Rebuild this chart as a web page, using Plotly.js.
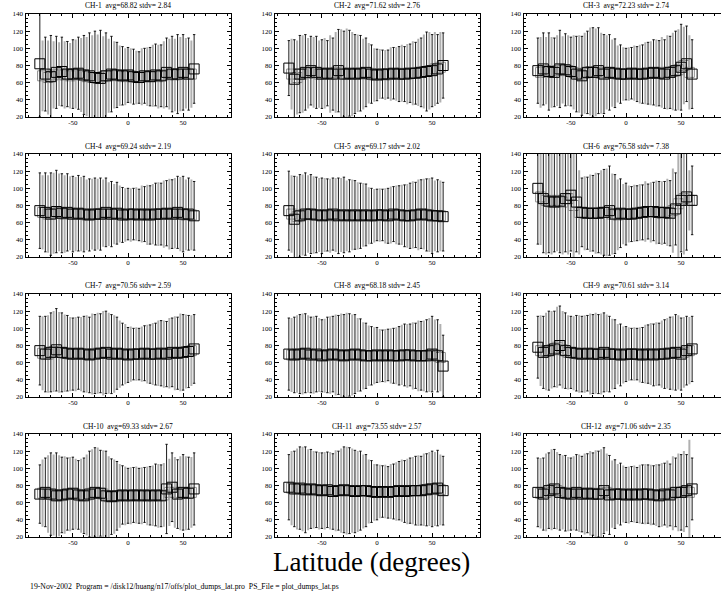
<!DOCTYPE html>
<html>
<head>
<meta charset="utf-8">
<script src="https://cdn.plot.ly/plotly-3.0.1.min.js"></script>
<style>
html,body{margin:0;padding:0;overflow:hidden;background:#fff;}
#plot{width:735px;height:594px;}
</style>
</head>
<body>
<div id="plot"></div>
<script>
// Latitude bins (two interleaved series)
const latBlack = [-80,-75,-70,-65,-60,-55,-50,-45,-40,-35,-30,-25,-20,-15,-10,-5,0,5,10,15,20,25,30,35,40,45,50,55,60];
const latGray  = [-77.5,-72.5,-67.5,-62.5,-57.5,-52.5,-47.5,-42.5,-37.5,-32.5,-27.5,-22.5,-17.5,-12.5,-7.5,-2.5,2.5,7.5,12.5,17.5,22.5,27.5,32.5,37.5,42.5,47.5,52.5,57.5];

const channels = ["CH-1","CH-2","CH-3","CH-4","CH-5","CH-6","CH-7","CH-8","CH-9","CH-10","CH-11","CH-12"];
const avgs  = ["68.82","71.62","72.23","69.24","69.17","76.58","70.56","68.18","70.61","69.33","73.55","71.06"];
const stdvs = ["2.84","2.76","2.74","2.19","2.02","7.38","2.59","2.45","3.14","2.67","2.57","2.35"];

const ch1BlackMean = [82,70,67,72,73,70,70,71,69,68,66,65,68,70,69,68,69,67,66,68,67,69,68,72,70,70,72,70,76];
const ch1BlackErr  = [62,43,48,42,40,38,40,42,46,50,54,56,50,44,38,34,32,32,30,32,34,36,36,40,44,46,44,42,40];
const ch1GrayMean  = [68,66,69,70,69,68,70,69,67,66,65,67,68,69,68,67,68,66,67,67,68,67,69,70,69,70,71,70];
const ch1GrayErr   = [40,42,38,36,38,37,39,42,45,48,50,46,42,38,34,32,31,30,32,33,35,36,38,40,41,42,40,38];

const ch2BlackMean = [77,64,70,72,74,72,70,71,70,74,70,71,70,71,72,70,69,70,70,71,70,70,71,71,72,73,74,76,80];
const ch2BlackErr  = [32,46,45,44,40,42,40,38,42,48,50,50,46,44,40,34,30,28,28,30,32,32,34,36,40,46,42,40,38];
const ch2GrayMean  = [70,66,70,71,72,70,71,70,72,71,70,70,71,70,71,69,70,69,70,70,71,70,71,72,73,74,76,78];
const ch2GrayErr   = [40,42,44,40,40,38,40,44,46,50,52,48,44,40,34,30,28,28,30,30,32,34,36,38,42,44,42,40];

const ch3BlackMean = [74,76,73,72,76,75,73,70,68,72,72,74,70,72,71,70,70,71,70,70,71,72,71,70,72,74,78,82,70];
const ch3BlackErr  = [38,42,45,40,45,42,40,44,46,48,52,50,46,44,40,34,30,30,32,34,36,38,38,40,42,46,50,44,40];
const ch3GrayMean  = [72,74,72,74,75,74,72,70,71,73,72,71,72,71,70,70,70,71,70,71,71,71,72,72,73,75,80,72];
const ch3GrayErr   = [40,38,40,40,38,40,42,44,46,50,50,46,42,38,32,30,30,31,33,35,36,38,40,42,44,46,44,42];

const ch4BlackMean = [74,72,70,73,71,72,70,71,70,69,70,70,72,70,71,69,70,70,69,70,69,70,70,71,70,72,70,70,68];
const ch4BlackErr  = [44,46,48,48,46,45,44,44,44,42,42,42,40,38,36,32,30,30,30,32,34,36,36,38,40,42,44,42,40];
const ch4GrayMean  = [72,70,71,72,70,71,70,70,69,70,70,71,70,70,70,69,69,70,70,69,70,70,70,70,71,70,69,69];
const ch4GrayErr   = [42,44,46,44,44,42,42,42,40,40,40,38,36,34,32,30,30,30,32,34,34,36,38,40,40,42,40,40];

const ch5BlackMean = [74,64,68,70,70,69,68,69,70,68,69,68,69,68,69,68,69,69,68,70,69,68,68,69,70,69,68,68,67];
const ch5BlackErr  = [46,50,48,48,46,44,44,42,42,44,44,42,40,38,36,32,30,30,32,32,34,36,38,38,40,42,44,42,40];
const ch5GrayMean  = [70,67,69,70,69,69,69,68,69,69,68,69,68,69,68,68,69,68,69,69,69,68,69,69,70,69,68,68];
const ch5GrayErr   = [44,46,46,44,44,42,42,42,42,42,40,40,38,36,32,30,30,31,32,33,34,36,38,40,40,42,40,40];

const ch6BlackMean = [100,88,85,84,85,88,92,84,72,71,71,71,72,74,70,71,70,70,71,72,73,73,72,72,71,76,86,90,86];
const ch6BlackErr  = [65,63,60,58,60,62,65,58,40,42,44,46,50,52,46,40,36,32,32,32,32,34,36,36,38,42,60,62,40];
const ch6GrayMean  = [90,86,84,86,84,88,80,72,71,71,71,72,72,70,69,70,70,71,72,73,72,72,71,72,74,82,88,86];
const ch6GrayErr   = [55,62,60,58,60,64,62,48,42,44,46,48,50,46,40,34,32,32,32,34,34,36,36,38,48,62,64,34];

const ch7BlackMean = [74,70,72,75,72,71,70,71,70,69,70,71,72,70,71,70,69,70,70,71,70,70,71,70,72,71,72,73,76];
const ch7BlackErr  = [40,44,46,48,46,44,42,42,44,44,46,46,48,46,42,36,32,30,30,32,34,36,38,38,40,42,44,42,40];
const ch7GrayMean  = [71,70,73,72,71,70,70,70,70,70,71,71,71,70,70,70,70,70,70,70,70,71,70,71,71,72,73,74];
const ch7GrayErr   = [42,44,46,46,44,42,42,42,44,46,46,48,46,44,38,34,31,30,31,33,35,37,38,40,42,44,42,40];

const ch8BlackMean = [70,69,70,71,69,70,68,69,70,69,68,69,70,69,68,68,69,68,69,68,68,69,69,68,68,68,70,68,56];
const ch8BlackErr  = [42,44,46,46,44,44,42,44,44,46,48,48,46,42,38,34,32,30,30,32,34,36,36,38,40,42,44,42,36];
const ch8GrayMean  = [69,70,70,70,69,69,68,69,69,68,69,69,69,68,68,68,68,68,68,68,69,68,68,68,68,69,69,66];
const ch8GrayErr   = [42,44,46,44,44,42,42,44,46,48,48,46,42,38,34,32,30,30,31,32,34,36,38,40,40,42,40,38];

const ch9BlackMean = [78,72,74,76,80,74,72,71,70,71,70,70,72,70,70,69,70,70,70,69,70,69,70,70,71,72,70,74,76];
const ch9BlackErr  = [36,42,46,44,46,44,42,44,44,44,46,46,46,44,40,36,32,30,30,32,34,36,36,40,42,44,42,40,38];
const ch9GrayMean  = [74,73,75,78,75,72,71,70,70,70,71,70,71,70,70,69,70,70,69,70,70,70,70,71,71,72,72,74];
const ch9GrayErr   = [40,44,44,46,44,42,42,44,44,46,46,46,44,40,34,32,30,30,31,33,35,36,38,40,42,42,40,38];

const ch10BlackMean = [70,72,70,68,69,70,71,69,68,70,72,71,68,67,68,69,68,69,68,69,68,69,68,76,78,70,72,71,76];
const ch10BlackErr  = [34,40,48,50,44,42,42,40,44,50,52,50,52,44,40,34,32,32,32,32,34,36,36,52,40,40,44,42,42];
const ch10GrayMean  = [71,70,69,68,69,70,70,68,69,71,71,70,67,67,68,68,68,69,68,68,68,68,69,72,72,71,71,72];
const ch10GrayErr   = [38,44,46,46,44,42,40,42,46,50,52,50,46,42,36,33,32,32,32,33,34,36,36,38,40,42,42,40];

const ch11BlackMean = [78,76,77,75,76,75,74,75,73,74,75,74,73,74,74,73,72,73,72,73,74,73,74,74,74,75,76,77,74];
const ch11BlackErr  = [38,44,48,50,46,44,44,44,44,46,50,50,48,46,42,36,32,30,30,32,34,36,38,40,40,42,44,44,40];
const ch11GrayMean  = [77,76,76,75,75,74,74,74,74,74,74,74,73,73,73,72,73,73,73,73,74,73,74,74,75,76,76,75];
const ch11GrayErr   = [42,46,48,46,44,44,44,44,46,48,50,48,46,42,36,32,30,30,31,33,35,37,38,40,41,42,42,40];

const ch12BlackMean = [72,70,74,76,72,71,70,72,70,71,70,70,74,69,70,70,69,70,69,70,70,69,68,70,69,72,72,74,76];
const ch12BlackErr  = [40,42,44,46,44,44,42,44,44,46,48,50,50,46,40,36,32,32,32,34,34,34,36,36,36,40,44,42,36];
const ch12GrayMean  = [71,72,75,74,72,70,71,71,70,71,70,71,72,70,70,70,69,70,70,70,69,69,69,70,71,72,73,72];
const ch12GrayErr   = [40,44,46,44,42,42,42,44,46,48,50,50,44,38,34,32,32,32,33,34,34,35,36,38,42,44,46,60];

const blackMeans = [ch1BlackMean,ch2BlackMean,ch3BlackMean,ch4BlackMean,ch5BlackMean,ch6BlackMean,ch7BlackMean,ch8BlackMean,ch9BlackMean,ch10BlackMean,ch11BlackMean,ch12BlackMean];
const blackErrs  = [ch1BlackErr,ch2BlackErr,ch3BlackErr,ch4BlackErr,ch5BlackErr,ch6BlackErr,ch7BlackErr,ch8BlackErr,ch9BlackErr,ch10BlackErr,ch11BlackErr,ch12BlackErr];
const grayMeans  = [ch1GrayMean,ch2GrayMean,ch3GrayMean,ch4GrayMean,ch5GrayMean,ch6GrayMean,ch7GrayMean,ch8GrayMean,ch9GrayMean,ch10GrayMean,ch11GrayMean,ch12GrayMean];
const grayErrs   = [ch1GrayErr,ch2GrayErr,ch3GrayErr,ch4GrayErr,ch5GrayErr,ch6GrayErr,ch7GrayErr,ch8GrayErr,ch9GrayErr,ch10GrayErr,ch11GrayErr,ch12GrayErr];

const xTickVals = [-50,0,50];
const xTickText = ["-50","0","50"];
const yTickVals = [20,40,60,80,100,120,140];
const yTickText = ["20","40","60","80","100","120","140"];

const W = 735, H = 594;
const serif = "Liberation Serif, Times New Roman, serif";
const traces = [], annotations = [];
const layout = {
  width: W, height: H,
  margin: {l:0, r:0, t:0, b:0},
  paper_bgcolor: "#ffffff", plot_bgcolor: "#ffffff",
  showlegend: false,
  font: {family: serif, color: "#000", size: 7}
};

for (let i = 0; i < 12; i++) {
  const r = Math.floor(i / 3), c = i % 3;
  const left = 25.5 + 249 * c, right = left + 205;
  const top = 14 + 140 * r, bottom = 117 + 140 * r;
  const n = i + 1;
  const xa = "x" + (n === 1 ? "" : n), ya = "y" + (n === 1 ? "" : n);
  const xk = "xaxis" + (n === 1 ? "" : n), yk = "yaxis" + (n === 1 ? "" : n);
  layout[xk] = {
    domain: [left / W, right / W], anchor: ya,
    range: [-93, 93], tickvals: xTickVals, ticktext: xTickText,
    ticks: "inside", ticklen: 4, tickwidth: 1, tickcolor: "#000",
    minor: {dtick: 10, tick0: 0, ticks: "inside", ticklen: 2, tickcolor: "#000"},
    showline: true, linecolor: "#000", linewidth: 1, mirror: "allticks",
    showgrid: false, zeroline: false, ticklabelstandoff: -1,
    tickfont: {family: serif, size: 7, color: "#000"}
  };
  layout[yk] = {
    domain: [1 - bottom / H, 1 - top / H], anchor: xa,
    range: [20, 140], tickvals: yTickVals, ticktext: yTickText,
    ticks: "inside", ticklen: 4, tickwidth: 1, tickcolor: "#000",
    minor: {dtick: 5, tick0: 0, ticks: "inside", ticklen: 2, tickcolor: "#000"},
    showline: true, linecolor: "#000", linewidth: 1, mirror: "allticks",
    showgrid: false, zeroline: false,
    tickfont: {family: serif, size: 7, color: "#000"}
  };
  traces.push({
    type: "scatter", mode: "markers", xaxis: xa, yaxis: ya,
    x: latGray, y: grayMeans[i],
    error_y: {type: "data", array: grayErrs[i], visible: true, color: "#b0b0b0", thickness: 2, width: 1},
    marker: {symbol: "square-open", size: 10, color: "#909090", line: {width: 1}}
  });
  traces.push({
    type: "scatter", mode: "markers", xaxis: xa, yaxis: ya,
    x: latBlack, y: blackMeans[i],
    error_y: {type: "data", array: blackErrs[i], visible: true, color: "#000", thickness: 0.9, width: 1.2},
    marker: {symbol: "square-open", size: 10, color: "#000", line: {width: 1}}
  });
  annotations.push({
    xref: "paper", yref: "paper",
    x: (left + right) / 2 / W, y: 1 - (top - 8) / H,
    xanchor: "center", yanchor: "middle", showarrow: false,
    text: channels[i] + "&nbsp;&nbsp;avg=" + avgs[i] + " stdv= " + stdvs[i],
    font: {family: serif, size: 7.5, color: "#000"}
  });
}
annotations.push({
  xref: "paper", yref: "paper", x: 371 / W, y: 1 - 562 / H,
  xanchor: "center", yanchor: "middle", showarrow: false,
  text: "Latitude (degrees)", font: {family: serif, size: 27, color: "#000"}
});
annotations.push({
  xref: "paper", yref: "paper", x: 28 / W, y: 1 - 586 / H,
  xanchor: "left", yanchor: "middle", showarrow: false,
  text: "19-Nov-2002&nbsp;&nbsp;Program = /disk12/huang/n17/offs/plot_dumps_lat.pro&nbsp;&nbsp;PS_File = plot_dumps_lat.ps",
  font: {family: serif, size: 7.75, color: "#000"}
});
layout.annotations = annotations;

Plotly.newPlot("plot", traces, layout, {staticPlot: true, displayModeBar: false});
</script>
</body>
</html>
